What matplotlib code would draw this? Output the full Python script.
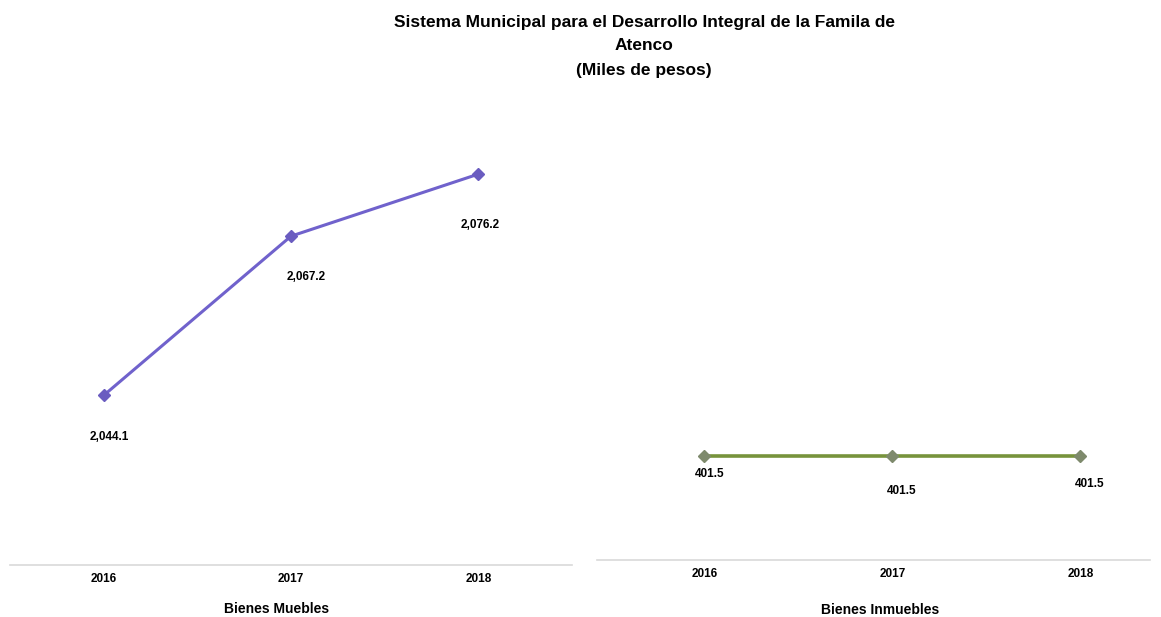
import matplotlib
matplotlib.use("Agg")
import matplotlib.pyplot as plt

years = ["2016", "2017", "2018"]
muebles = [2044.1, 2067.2, 2076.2]
inmuebles = [401.5, 401.5, 401.5]
muebles_labels = ["2,044.1", "2,067.2", "2,076.2"]
inmuebles_labels = ["401.5", "401.5", "401.5"]

TITLE = "Sistema Municipal para el Desarrollo Integral de la Famila de\nAtenco\n(Miles de pesos)"
FONT = ["Liberation Sans", "DejaVu Sans"]

W, H = 1161, 617
fig = plt.figure(figsize=(W / 100, H / 100), dpi=100)
fig.patch.set_facecolor("white")


def style_axis(ax):
    for side in ["top", "left", "right"]:
        ax.spines[side].set_visible(False)
    ax.spines["bottom"].set_color("#d9d9d9")
    ax.spines["bottom"].set_linewidth(1.2)
    ax.set_yticks([])
    ax.tick_params(axis="x", length=0, pad=6)
    for lbl in ax.get_xticklabels():
        lbl.set_fontfamily(FONT)
        lbl.set_fontweight("bold")
        lbl.set_fontsize(8.5)


# --- Bienes Muebles ---
ax1 = fig.add_axes([10 / W, 52 / H, 562 / W, 435 / H])
x = range(len(years))
ax1.plot(x, muebles, color="#7062CC", lw=2.2, marker="D", ms=6,
         mfc="#6A5CC0", mec="#6A5CC0")
ax1.set_xlim(-0.5, 2.5)
ax1.set_ylim(2019.5, 2082.6)
ax1.set_xticks(list(x))
ax1.set_xticklabels(years)
style_axis(ax1)
offs1 = [(4, -30), (11, -29.5), (1, -36.5)]
for i, (v, t) in enumerate(zip(muebles, muebles_labels)):
    ax1.annotate(t, (i, v), xytext=offs1[i], textcoords="offset points",
                 ha="center", va="center", fontsize=8.5, fontweight="bold",
                 family=FONT)
ax1.set_xlabel("Bienes Muebles", fontsize=10, fontweight="bold", family=FONT)
ax1.xaxis.set_label_coords(0.475, -0.085)

# --- Bienes Inmuebles ---
ax2 = fig.add_axes([597 / W, 57 / H, 553 / W, 430 / H])
ax2.plot(x, inmuebles, color="#77933C", lw=2.6, marker="D", ms=6,
         mfc="#7E8A6C", mec="#7E8A6C")
ax2.set_xlim(-0.57, 2.37)
ax2.set_ylim(0, 1660)
ax2.set_xticks(list(x))
ax2.set_xticklabels(years)
style_axis(ax2)
offs2 = [(4, -13), (6.5, -25), (7, -20)]
for i, (v, t) in enumerate(zip(inmuebles, inmuebles_labels)):
    ax2.annotate(t, (i, v), xytext=offs2[i], textcoords="offset points",
                 ha="center", va="center", fontsize=8.5, fontweight="bold",
                 family=FONT)
ax2.set_xlabel("Bienes Inmuebles", fontsize=10, fontweight="bold", family=FONT)
ax2.xaxis.set_label_coords(0.512, -0.101)

fig.text(644 / W, 1 - 46 / H, TITLE, ha="center", va="center",
         fontsize=12.5, fontweight="bold", family=FONT, linespacing=1.75)

fig.savefig("out.png", dpi=100, facecolor="white")
